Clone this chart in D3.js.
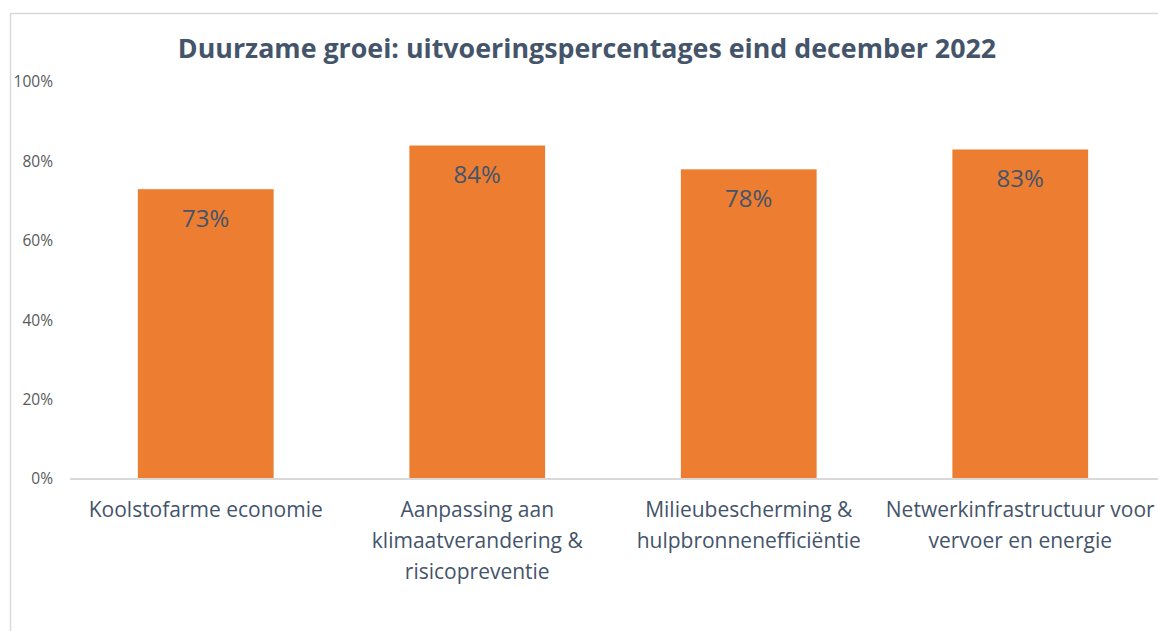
<!DOCTYPE html>
<html>
<head>
<meta charset="utf-8">
<script src="https://cdn.jsdelivr.net/npm/d3@7"></script>
<style>
  html, body { margin: 0; padding: 0; background: #fff; }
  svg { display: block; }
</style>
</head>
<body>
<svg id="chart" width="1158" height="631"></svg>
<script>
const titleText = "Duurzame groei: uitvoeringspercentages eind december 2022";
const categories = [
  "Koolstofarme economie",
  "Aanpassing aan klimaatverandering & risicopreventie",
  "Milieubescherming & hulpbronnenefficiëntie",
  "Netwerkinfrastructuur voor vervoer en energie"
];
const categoryLines = [
  ["Koolstofarme economie"],
  ["Aanpassing aan", "klimaatverandering &", "risicopreventie"],
  ["Milieubescherming &", "hulpbronnenefficiëntie"],
  ["Netwerkinfrastructuur voor", "vervoer en energie"]
];
const values = [73, 84, 78, 83];
const yTicks = [0, 20, 40, 60, 80, 100];

const svg = d3.select("#chart");
const W = 1158, H = 631;
const font = "'Open Sans', sans-serif";
const textColor = "#44546A";

// chart frame (extends beyond the photo on right and bottom)
svg.append("path")
  .attr("d", `M10.5,${H + 5} V13.5 H${W + 5}`)
  .attr("fill", "none")
  .attr("stroke", "#D9D9D9")
  .attr("stroke-width", 1.5);

const x = d3.scaleBand().domain(categories).range([70, 1156]).paddingInner(0.5).paddingOuter(0.25);
const y = d3.scaleLinear().domain([0, 100]).range([479, 82]);

// title
svg.append("text")
  .attr("x", 587).attr("y", 58)
  .attr("text-anchor", "middle")
  .attr("font-family", font)
  .attr("font-weight", "bold")
  .attr("font-size", 26.8)
  .attr("fill", textColor)
  .text(titleText);

// y axis
const yAxis = d3.axisLeft(y).tickValues(yTicks).tickFormat(d => d + "%").tickSize(0).tickPadding(0);
const gy = svg.append("g").attr("transform", "translate(53,0)").call(yAxis);
gy.select(".domain").remove();
gy.selectAll("text")
  .attr("font-family", font)
  .attr("font-size", 15.5)
  .attr("fill", "#595959");

// bars
svg.append("g").selectAll("rect")
  .data(values)
  .join("rect")
  .attr("x", (d, i) => x(categories[i]))
  .attr("y", d => y(d))
  .attr("width", x.bandwidth())
  .attr("height", d => y(0) - y(d))
  .attr("fill", "#ED7D31");

// baseline
const xAxis = d3.axisBottom(x).tickSize(0).tickFormat("");
const gx = svg.append("g").attr("transform", `translate(0,${y(0)})`).call(xAxis);
gx.select(".domain")
  .attr("d", `M70,0 H${W + 5}`)
  .attr("stroke", "#D9D9D9")
  .attr("stroke-width", 2);

// data labels
svg.append("g").selectAll("text")
  .data(values)
  .join("text")
  .attr("x", (d, i) => x(categories[i]) + x.bandwidth() / 2)
  .attr("y", d => y(d) + 37.5)
  .attr("text-anchor", "middle")
  .attr("font-family", font)
  .attr("font-size", 24)
  .attr("fill", textColor)
  .text(d => d + "%");

// category labels
const lbl = svg.append("g").selectAll("text")
  .data(categories)
  .join("text")
  .attr("x", d => x(d) + x.bandwidth() / 2)
  .attr("y", 517)
  .attr("text-anchor", "middle")
  .attr("font-family", font)
  .attr("font-size", 21)
  .attr("fill", textColor);
lbl.each(function(d, i) {
  const t = d3.select(this);
  categoryLines[i].forEach((line, j) => {
    t.append("tspan")
      .attr("x", x(d) + x.bandwidth() / 2)
      .attr("dy", j === 0 ? 0 : 31)
      .text(line);
  });
});
</script>
</body>
</html>
